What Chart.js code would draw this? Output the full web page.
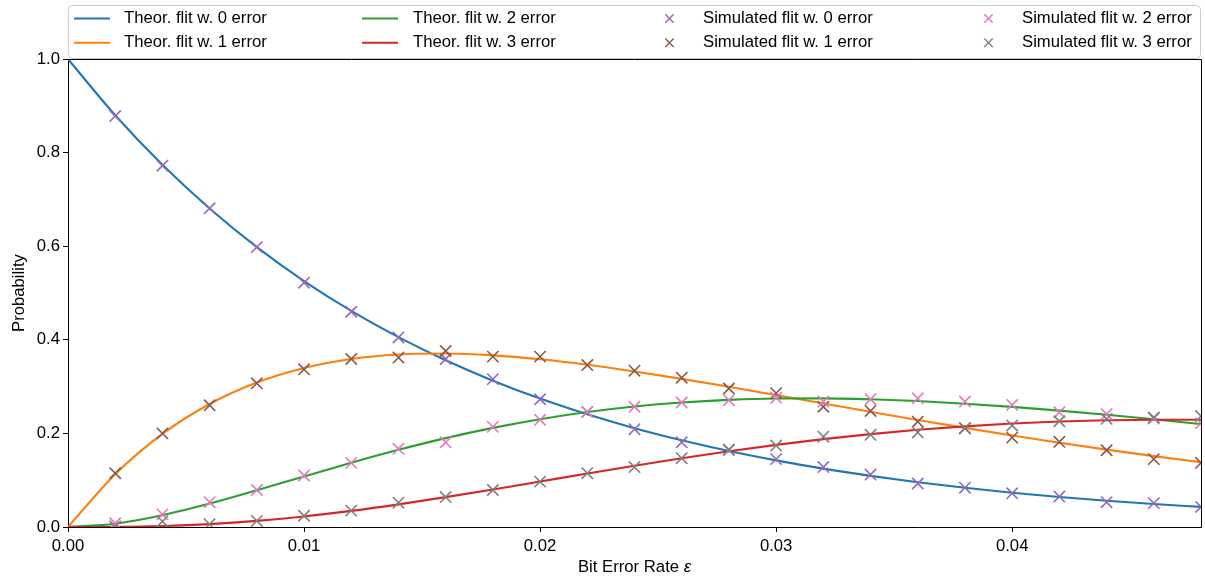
<!DOCTYPE html>
<html>
<head>
<meta charset="utf-8">
<title>Flit error probability</title>
<script src="https://cdn.jsdelivr.net/npm/chart.js@4.4.1/dist/chart.umd.min.js"></script>
<style>
    html, body { margin: 0; padding: 0; background: #fff; }
    #grafica { display: block; }
</style>
</head>
<body>
<canvas id="grafica" width="1205" height="579"></canvas>
<script>
// bit error rate (x) for theoretical curves
const tasaError = [0, 0.002, 0.004, 0.006, 0.008, 0.010, 0.012, 0.014, 0.016, 0.018, 0.020, 0.022, 0.024,
    0.026, 0.028, 0.030, 0.032, 0.034, 0.036, 0.038, 0.040, 0.042, 0.044, 0.046, 0.048]

const teorico0 = [1.0000, 0.8797, 0.7738, 0.6804, 0.5981, 0.5256, 0.4618, 0.4056, 0.3562, 0.3127, 0.2744, 0.2408, 0.2112,
    0.1853, 0.1624, 0.1424, 0.1247, 0.1093, 0.0957, 0.0838, 0.0733, 0.0642, 0.0562, 0.0491, 0.0429]
const teorico1 = [0, 0.1128, 0.1989, 0.2628, 0.3087, 0.3398, 0.3590, 0.3686, 0.3707, 0.3668, 0.3584, 0.3467, 0.3324,
    0.3165, 0.2995, 0.2818, 0.2639, 0.2462, 0.2287, 0.2118, 0.1956, 0.1801, 0.1654, 0.1515, 0.1385]
const teorico2 = [0, 0.0071, 0.0252, 0.0500, 0.0784, 0.1081, 0.1373, 0.1649, 0.1899, 0.2118, 0.2304, 0.2457, 0.2575,
    0.2661, 0.2717, 0.2745, 0.2748, 0.2729, 0.2691, 0.2635, 0.2567, 0.2487, 0.2398, 0.2301, 0.2200]
const teorico3 = [0, 0.0003, 0.0021, 0.0062, 0.0131, 0.0226, 0.0345, 0.0484, 0.0638, 0.0802, 0.0972, 0.1142, 0.1309,
    0.1468, 0.1618, 0.1755, 0.1878, 0.1985, 0.2077, 0.2151, 0.2210, 0.2253, 0.2281, 0.2293, 0.2292]

// bit error rate (x) for simulated points
const tasaSimulada = [0.002, 0.004, 0.006, 0.008, 0.010, 0.012, 0.014, 0.016, 0.018, 0.020, 0.022, 0.024,
    0.026, 0.028, 0.030, 0.032, 0.034, 0.036, 0.038, 0.040, 0.042, 0.044, 0.046, 0.048]

const simulado0 = [0.878, 0.772, 0.681, 0.598, 0.522, 0.460, 0.405, 0.359, 0.316, 0.273, 0.246, 0.209,
    0.181, 0.165, 0.145, 0.128, 0.112, 0.093, 0.084, 0.072, 0.065, 0.053, 0.051, 0.043]
const simulado1 = [0.115, 0.200, 0.260, 0.307, 0.337, 0.359, 0.362, 0.376, 0.364, 0.364, 0.346, 0.334,
    0.319, 0.296, 0.286, 0.257, 0.248, 0.225, 0.211, 0.191, 0.182, 0.164, 0.145, 0.137]
const simulado2 = [0.008, 0.027, 0.053, 0.079, 0.110, 0.137, 0.167, 0.181, 0.214, 0.229, 0.246, 0.257,
    0.266, 0.271, 0.276, 0.268, 0.273, 0.275, 0.268, 0.261, 0.245, 0.241, 0.232, 0.222]
const simulado3 = [0.001, 0.012, 0.006, 0.013, 0.024, 0.035, 0.052, 0.064, 0.079, 0.097, 0.115, 0.128,
    0.147, 0.165, 0.174, 0.193, 0.197, 0.202, 0.211, 0.217, 0.226, 0.231, 0.234, 0.237]

const etiquetasTeoricas = ['Theor. flit w. 0 error', 'Theor. flit w. 1 error', 'Theor. flit w. 2 error', 'Theor. flit w. 3 error']
const etiquetasSimuladas = ['Simulated flit w. 0 error', 'Simulated flit w. 1 error', 'Simulated flit w. 2 error', 'Simulated flit w. 3 error']

const coloresLinea = ['#1f77b4', '#ff7f0e', '#2ca02c', '#d62728']
const coloresMarca = ['#9467bd', '#8c564b', '#e377c2', '#7f7f7f']

const fuente = "'Liberation Sans', Arial, Helvetica, sans-serif"
const tamFuente = 16.7

const puntos = (xs, ys) => xs.map((x, i) => ({ x: x, y: ys[i] }))

const datasets = []
const teoricos = [teorico0, teorico1, teorico2, teorico3]
const simulados = [simulado0, simulado1, simulado2, simulado3]

teoricos.forEach((serie, i) => {
    datasets.push({
        label: etiquetasTeoricas[i],
        data: puntos(tasaError, serie),
        showLine: true,
        borderColor: coloresLinea[i],
        backgroundColor: coloresLinea[i],
        borderWidth: 2.1,
        pointRadius: 0,
        cubicInterpolationMode: 'monotone',
        clip: 0,
        order: 8 - i
    })
})

simulados.forEach((serie, i) => {
    datasets.push({
        label: etiquetasSimuladas[i],
        data: puntos(tasaSimulada, serie),
        showLine: false,
        pointStyle: 'crossRot',
        pointRadius: 8,
        pointBorderWidth: 1.6,
        borderColor: coloresMarca[i],
        backgroundColor: coloresMarca[i],
        clip: 0,
        order: 4 - i
    })
})

// axes frame (top/right), axis titles and the matplotlib style legend
const marcoYLeyenda = {
    id: 'marcoYLeyenda',
    afterDraw(chart) {
        const ctx = chart.ctx
        const area = chart.chartArea
        ctx.save()

        ctx.strokeStyle = '#000'
        ctx.lineWidth = 1
        ctx.beginPath()
        ctx.moveTo(area.left, area.top + 0.5)
        ctx.lineTo(area.right + 0.5, area.top + 0.5)
        ctx.lineTo(area.right + 0.5, area.bottom)
        ctx.stroke()

        ctx.fillStyle = '#000'
        ctx.font = `${tamFuente}px ${fuente}`
        ctx.textBaseline = 'middle'

        // x title with italic epsilon
        const base = 'Bit Error Rate '
        const wBase = ctx.measureText(base).width
        ctx.font = `italic ${tamFuente}px ${fuente}`
        const wEps = ctx.measureText('ε').width
        const xIni = (area.left + area.right) / 2 - (wBase + wEps) / 2
        ctx.font = `${tamFuente}px ${fuente}`
        ctx.textAlign = 'left'
        ctx.fillText(base, xIni, 567)
        ctx.font = `italic ${tamFuente}px ${fuente}`
        ctx.fillText('ε', xIni + wBase, 567)

        // y title
        ctx.font = `${tamFuente}px ${fuente}`
        ctx.save()
        ctx.translate(19, (area.top + area.bottom) / 2)
        ctx.rotate(-Math.PI / 2)
        ctx.textAlign = 'center'
        ctx.fillText('Probability', 0, 0)
        ctx.restore()

        // legend box
        const bx = 68.5, by = 5.5, bw = 1132, bh = 53, r = 4
        ctx.beginPath()
        ctx.moveTo(bx + r, by)
        ctx.lineTo(bx + bw - r, by)
        ctx.quadraticCurveTo(bx + bw, by, bx + bw, by + r)
        ctx.lineTo(bx + bw, by + bh - r)
        ctx.quadraticCurveTo(bx + bw, by + bh, bx + bw - r, by + bh)
        ctx.lineTo(bx + r, by + bh)
        ctx.quadraticCurveTo(bx, by + bh, bx, by + bh - r)
        ctx.lineTo(bx, by + r)
        ctx.quadraticCurveTo(bx, by, bx + r, by)
        ctx.closePath()
        ctx.fillStyle = 'rgba(255,255,255,0.8)'
        ctx.fill()
        ctx.strokeStyle = '#cccccc'
        ctx.stroke()

        const filas = [18.5, 42.7]
        const columnas = [
            { h: 74, t: 124, items: [0, 1] },
            { h: 362, t: 413, items: [2, 3] },
            { h: 652, t: 703, items: [4, 5] },
            { h: 971, t: 1022, items: [6, 7] }
        ]
        ctx.textAlign = 'left'
        ctx.font = `${tamFuente}px ${fuente}`
        columnas.forEach(col => {
            col.items.forEach((idx, fila) => {
                const y = filas[fila]
                if (idx < 4) {
                    ctx.strokeStyle = coloresLinea[idx]
                    ctx.lineWidth = 2.1
                    ctx.beginPath()
                    ctx.moveTo(col.h, y)
                    ctx.lineTo(col.h + 36, y)
                    ctx.stroke()
                    ctx.fillStyle = '#000'
                    ctx.fillText(etiquetasTeoricas[idx], col.t, y)
                } else {
                    const c = col.h + 17.5
                    const d = 4.2
                    ctx.strokeStyle = coloresMarca[idx - 4]
                    ctx.lineWidth = 1.4
                    ctx.beginPath()
                    ctx.moveTo(c - d, y - d)
                    ctx.lineTo(c + d, y + d)
                    ctx.moveTo(c - d, y + d)
                    ctx.lineTo(c + d, y - d)
                    ctx.stroke()
                    ctx.fillStyle = '#000'
                    ctx.fillText(etiquetasSimuladas[idx - 4], col.t, y)
                }
            })
        })
        ctx.restore()
    }
}

const canvas = document.getElementById('grafica')
const context = canvas.getContext('2d')

const grafica = new Chart(context, {
    type: 'scatter',
    data: { datasets: datasets },
    options: {
        responsive: false,
        animation: false,
        devicePixelRatio: 1,
        layout: { autoPadding: false, padding: { top: 59, right: 4, left: 0, bottom: 0 } },
        plugins: {
            legend: { display: false },
            tooltip: { enabled: false }
        },
        scales: {
            x: {
                type: 'linear',
                min: 0,
                max: 0.048,
                afterFit: (scale) => { scale.height = 52 },
                border: { display: true, color: '#000', width: 1 },
                grid: { drawOnChartArea: false, drawTicks: true, tickLength: 5, color: '#000' },
                ticks: {
                    stepSize: 0.01,
                    includeBounds: false,
                    padding: 4,
                    color: '#000',
                    font: { family: fuente, size: tamFuente },
                    callback: (v) => Number(v).toFixed(2)
                }
            },
            y: {
                type: 'linear',
                min: 0,
                max: 1,
                afterFit: (scale) => { scale.width = 68 },
                border: { display: true, color: '#000', width: 1 },
                grid: { drawOnChartArea: false, drawTicks: true, tickLength: 5, color: '#000' },
                ticks: {
                    stepSize: 0.2,
                    padding: 3,
                    color: '#000',
                    font: { family: fuente, size: tamFuente },
                    callback: (v) => Number(v).toFixed(1)
                }
            }
        }
    },
    plugins: [marcoYLeyenda]
})
</script>
</body>
</html>
